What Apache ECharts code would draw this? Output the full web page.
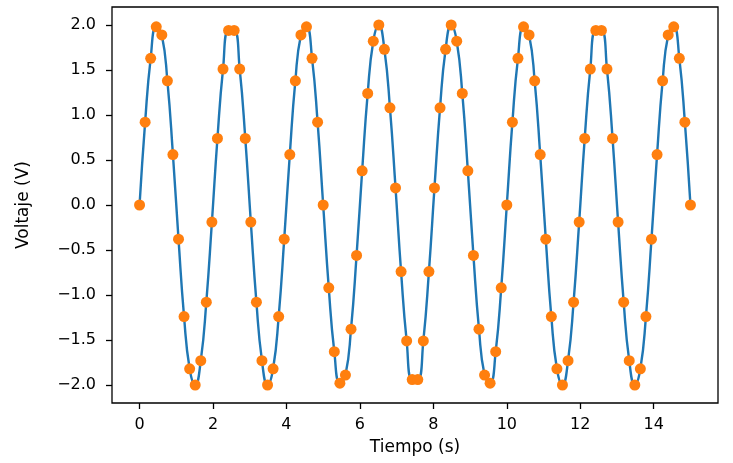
<!DOCTYPE html>
<html>
<head>
<meta charset="utf-8">
<script src="https://cdn.jsdelivr.net/npm/echarts@6/dist/echarts.min.js"></script>
<style>
html,body{margin:0;padding:0;background:#fff;}
#chart{width:733px;height:463px;}
</style>
</head>
<body>
<div id="chart"></div>
<script>
// Time samples (s)
var tiempo = [
  0.000, 0.152, 0.303, 0.455, 0.606, 0.758, 0.909, 1.061, 1.212, 1.364,
  1.515, 1.667, 1.818, 1.970, 2.121, 2.273, 2.424, 2.576, 2.727, 2.879,
  3.030, 3.182, 3.333, 3.485, 3.636, 3.788, 3.939, 4.091, 4.242, 4.394,
  4.545, 4.697, 4.848, 5.000, 5.152, 5.303, 5.455, 5.606, 5.758, 5.909,
  6.061, 6.212, 6.364, 6.515, 6.667, 6.818, 6.970, 7.121, 7.273, 7.424,
  7.576, 7.727, 7.879, 8.030, 8.182, 8.333, 8.485, 8.636, 8.788, 8.939,
  9.091, 9.242, 9.394, 9.545, 9.697, 9.848, 10.000, 10.152, 10.303, 10.455,
  10.606, 10.758, 10.909, 11.061, 11.212, 11.364, 11.515, 11.667, 11.818, 11.970,
  12.121, 12.273, 12.424, 12.576, 12.727, 12.879, 13.030, 13.182, 13.333, 13.485,
  13.636, 13.788, 13.939, 14.091, 14.242, 14.394, 14.545, 14.697, 14.848, 15.000
];
// Voltage samples (V)
var voltaje = [
  0.00, 0.92, 1.63, 1.98, 1.89, 1.38, 0.56, -0.38, -1.24, -1.82,
  -2.00, -1.73, -1.08, -0.19, 0.74, 1.51, 1.94, 1.94, 1.51, 0.74,
  -0.19, -1.08, -1.73, -2.00, -1.82, -1.24, -0.38, 0.56, 1.38, 1.89,
  1.98, 1.63, 0.92, 0.00, -0.92, -1.63, -1.98, -1.89, -1.38, -0.56,
  0.38, 1.24, 1.82, 2.00, 1.73, 1.08, 0.19, -0.74, -1.51, -1.94,
  -1.94, -1.51, -0.74, 0.19, 1.08, 1.73, 2.00, 1.82, 1.24, 0.38,
  -0.56, -1.38, -1.89, -1.98, -1.63, -0.92, 0.00, 0.92, 1.63, 1.98,
  1.89, 1.38, 0.56, -0.38, -1.24, -1.82, -2.00, -1.73, -1.08, -0.19,
  0.74, 1.51, 1.94, 1.94, 1.51, 0.74, -0.19, -1.08, -1.73, -2.00,
  -1.82, -1.24, -0.38, 0.56, 1.38, 1.89, 1.98, 1.63, 0.92, 0.00
];
var xTicks = [0, 2, 4, 6, 8, 10, 12, 14];
var yTicks = [-2.0, -1.5, -1.0, -0.5, 0.0, 0.5, 1.0, 1.5, 2.0];

var pts = tiempo.map(function (t, i) { return [t, voltaje[i]]; });

var chart = echarts.init(document.getElementById('chart'), null, {renderer: 'canvas'});
var FONT = 'DejaVu Sans';
chart.setOption({
  animation: false,
  backgroundColor: '#ffffff',
  grid: {
    left: 112, right: 15, top: 7, bottom: 60,
    show: true, borderColor: '#000', borderWidth: 1.3, backgroundColor: 'transparent'
  },
  xAxis: {
    type: 'value',
    min: -0.75, max: 15.75,
    name: 'Tiempo (s)',
    nameLocation: 'middle',
    nameGap: 36,
    nameTextStyle: {fontFamily: FONT, fontSize: 17, color: '#000', verticalAlign: 'top'},
    axisLine: {show: false, onZero: false},
    splitLine: {show: false},
    axisTick: {show: true, length: 6, lineStyle: {color: '#000', width: 1.3}, customValues: xTicks},
    axisLabel: {
      fontFamily: FONT, fontSize: 16, color: '#000', margin: 14,
      customValues: xTicks,
      formatter: function (v) { return String(v); }
    }
  },
  yAxis: {
    type: 'value',
    min: -2.2, max: 2.2,
    name: 'Voltaje (V)',
    nameLocation: 'middle',
    nameGap: 80,
    nameTextStyle: {fontFamily: FONT, fontSize: 17, color: '#000'},
    axisLine: {show: false, onZero: false},
    splitLine: {show: false},
    axisTick: {show: true, length: 6, lineStyle: {color: '#000', width: 1.3}, customValues: yTicks},
    axisLabel: {
      fontFamily: FONT, fontSize: 16, color: '#000', margin: 16,
      customValues: yTicks,
      formatter: function (v) { return v.toFixed(1).replace('-', '\u2212'); }
    }
  },
  series: [
    {
      type: 'line',
      data: pts,
      smooth: 0.5,
      showSymbol: false,
      symbol: 'none',
      lineStyle: {color: '#1f77b4', width: 2.4},
      z: 2
    },
    {
      type: 'scatter',
      data: pts,
      symbol: 'circle',
      symbolSize: 11,
      itemStyle: {color: '#ff7f0e', opacity: 1},
      z: 3
    }
  ]
});
</script>
</body>
</html>
